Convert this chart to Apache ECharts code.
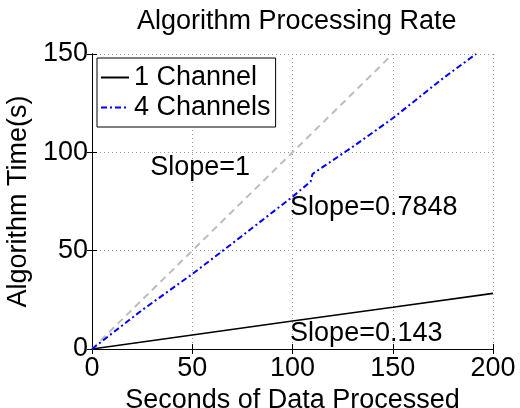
<html>
<head>
<meta charset="utf-8">
<script src="https://cdn.jsdelivr.net/npm/echarts@6/dist/echarts.min.js"></script>
</head>
<body style="margin:0;padding:0;">
<div id="myChart" style="width:520px;height:408px;"></div>
<script type="text/javascript">
var xTicks = [0, 50, 100, 150, 200];
var yTicks = [0, 50, 100, 150];
var oneChannelX = [0, 50, 100, 150, 200];
var oneChannelY = [0, 7.1, 14.2, 21.2, 28.3];
var fourChannelX = [0, 25, 50, 69, 100, 109, 110, 130, 150, 175, 191.5];
var fourChannelY = [0, 19.8, 38.1, 52.9, 77.4, 85.1, 89, 102.8, 117.3, 137.6, 150];
var unityX = [0, 150];
var unityY = [0, 150];
var notes = [
	{ text: 'Slope=1', x: 29, y: 92.5 },
	{ text: 'Slope=0.7848', x: 98.8, y: 71.7 },
	{ text: 'Slope=0.143', x: 98.8, y: 8.1 }
];

var fs = 27;
var font = '"Liberation Sans", Arial, Helvetica, sans-serif';

function pairs(xs, ys) {
	var out = [];
	for (var i = 0; i < xs.length; i++) out.push([xs[i], ys[i]]);
	return out;
}

var tickStyle = { show: true, inside: true, length: 5, lineStyle: { color: '#000' } };
var lineStyle = { show: true, lineStyle: { color: '#000', width: 1 } };

var option = {
	animation: false,
	backgroundColor: '#fff',
	title: {
		text: 'Algorithm Processing Rate',
		left: 132, top: 3,
		textStyle: { fontFamily: font, fontSize: fs, fontWeight: 'normal', color: '#000' }
	},
	legend: {
		orient: 'vertical',
		left: 97, top: 58,
		padding: [6, 5, 6, 3],
		itemGap: 3,
		itemWidth: 28, itemHeight: 14,
		backgroundColor: '#fff',
		borderColor: '#000', borderWidth: 1, borderRadius: 0,
		itemStyle: { opacity: 0 },
		data: ['1 Channel', '4 Channels'],
		textStyle: { fontFamily: font, fontSize: fs, color: '#000' }
	},
	grid: { left: 92, right: 27, top: 54, bottom: 59, containLabel: false, outerBoundsMode: 'none' },
	xAxis: [{
		type: 'value', min: 0, max: 200, interval: 50,
		name: 'Seconds of Data Processed', nameLocation: 'middle', nameGap: 30,
		nameTextStyle: { fontFamily: font, fontSize: fs, color: '#000' },
		axisLine: lineStyle, axisTick: tickStyle,
		axisLabel: { fontFamily: font, fontSize: fs, color: '#000', margin: 6, showMaxLabel: true, showMinLabel: true },
		splitLine: { show: true, lineStyle: { color: '#999', type: [1, 3], width: 1 } }
	}, {
		type: 'value', min: 0, max: 200, interval: 50, position: 'top',
		axisLine: lineStyle, axisTick: tickStyle, axisLabel: { show: false }, splitLine: { show: false }
	}],
	yAxis: [{
		type: 'value', min: 0, max: 150, interval: 50,
		name: 'Algorithm Time(s)', nameLocation: 'middle', nameGap: 58,
		nameTextStyle: { fontFamily: font, fontSize: fs, color: '#000' },
		axisLine: lineStyle, axisTick: tickStyle,
		axisLabel: { fontFamily: font, fontSize: fs, color: '#000', margin: 4 },
		splitLine: { show: true, lineStyle: { color: '#999', type: [1, 3], width: 1 } }
	}, {
		type: 'value', min: 0, max: 150, interval: 50, position: 'right',
		axisLine: lineStyle, axisTick: tickStyle, axisLabel: { show: false }, splitLine: { show: false }
	}],
	series: [{
		name: 'Slope=1', type: 'line', symbol: 'none', silent: true,
		data: pairs(unityX, unityY),
		lineStyle: { color: '#bdbdbd', width: 2, type: [7, 5] },
		markPoint: {
			symbol: 'circle', symbolSize: 0,
			label: {
				show: true, position: 'inside', align: 'left', verticalAlign: 'middle',
				fontFamily: font, fontSize: fs, color: '#000',
				formatter: function (p) { return p.name; }
			},
			data: notes.map(function (n) { return { name: n.text, coord: [n.x, n.y], value: n.text }; })
		}
	}, {
		name: '1 Channel', type: 'line', symbol: 'none',
		data: pairs(oneChannelX, oneChannelY),
		itemStyle: { color: '#000' },
		lineStyle: { color: '#000', width: 1.6 }
	}, {
		name: '4 Channels', type: 'line', symbol: 'none', clip: true,
		data: pairs(fourChannelX, fourChannelY),
		itemStyle: { color: '#0000ff' },
		lineStyle: { color: '#0000ff', width: 2, type: [6, 3, 2, 3] }
	}]
};
echarts.init(document.getElementById('myChart')).setOption(option);
</script>
</body>
</html>
